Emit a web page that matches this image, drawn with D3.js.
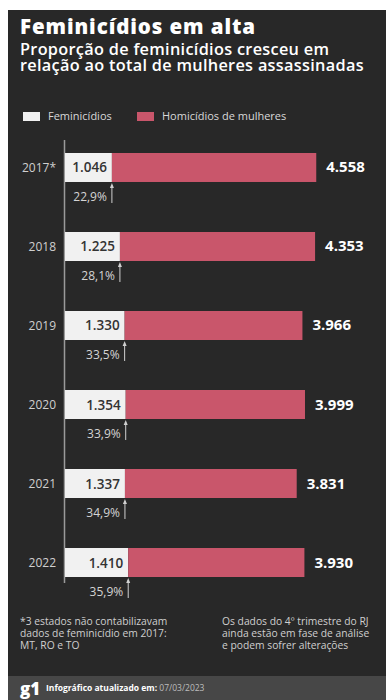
<!DOCTYPE html>
<html>
<head>
<meta charset="utf-8">
<script src="https://cdn.jsdelivr.net/npm/d3@7"></script>
<style>
  body { margin: 0; background: #fff; }
  svg { display: block; }
</style>
</head>
<body>
<svg id="chart" width="386" height="700"></svg>
<script>
var anos = ["2017*", "2018", "2019", "2020", "2021", "2022"];
var feminicidios = [1046, 1225, 1330, 1354, 1337, 1410];
var homicidios = [4558, 4353, 3966, 3999, 3831, 3930];
var percentuais = ["22,9%", "28,1%", "33,5%", "33,9%", "34,9%", "35,9%"];
var legenda = ["Feminicídios", "Homicídios de mulheres"];

var branco = "#f1f1f1", rosa = "#c9566b", fundo = "#282828";
var fonte = "'Open Sans', sans-serif";

var svg = d3.select("#chart");

// dark panel
svg.append("rect").attr("x", 8).attr("y", 10).attr("width", 378).attr("height", 690).attr("fill", fundo);
svg.append("rect").attr("x", 8).attr("y", 676).attr("width", 378).attr("height", 24).attr("fill", "#474747");

// titles
svg.append("text").attr("x", 20).attr("y", 34).text("Feminicídios em alta")
    .attr("fill", "#fff").attr("font-family", fonte).attr("font-weight", 800).attr("font-size", 20.5)
    .attr("letter-spacing", 0.9);
svg.append("text").attr("x", 20).attr("y", 55).text("Proporção de feminicídios cresceu em")
    .attr("fill", "#fff").attr("font-family", fonte).attr("font-weight", 600).attr("font-size", 16.3)
    .attr("letter-spacing", 0.3);
svg.append("text").attr("x", 20).attr("y", 71).text("relação ao total de mulheres assassinadas")
    .attr("fill", "#fff").attr("font-family", fonte).attr("font-weight", 600).attr("font-size", 16.3)
    .attr("letter-spacing", 0.3);

// legend
var legX = [23, 137];
legenda.forEach(function(nome, i) {
    svg.append("rect").attr("x", legX[i]).attr("y", 112).attr("width", 17).attr("height", 9)
        .attr("fill", i == 0 ? branco : rosa);
    svg.append("text").attr("x", legX[i] + 25).attr("y", 120).text(nome)
        .attr("fill", "#d8d8d8").attr("font-family", fonte).attr("font-size", 11);
});

// scales
var x = d3.scaleLinear().domain([0, 6000]).range([65, 334]);
var y = d3.scaleBand().domain(anos).range([153, 577]).paddingInner(0.633).paddingOuter(0);

var dados = anos.map(function(a, i) {
    return {ano: a, fem: feminicidios[i], hom: homicidios[i], pct: percentuais[i]};
});

// axis line
svg.append("line").attr("x1", 64.5).attr("x2", 64.5).attr("y1", 140).attr("y2", 583)
    .attr("stroke", "#9a9a9a").attr("stroke-width", 1.5);

var g = svg.selectAll(".linha").data(dados).enter().append("g").attr("class", "linha");

g.append("rect")
    .attr("x", x(0)).attr("y", function(d) { return y(d.ano); })
    .attr("width", function(d) { return x(d.fem) - x(0); })
    .attr("height", y.bandwidth()).attr("fill", branco);

g.append("rect")
    .attr("x", function(d) { return x(d.fem); }).attr("y", function(d) { return y(d.ano); })
    .attr("width", function(d) { return x(d.fem + d.hom) - x(d.fem); })
    .attr("height", y.bandwidth()).attr("fill", rosa);

// years
g.append("text")
    .attr("x", 56).attr("y", function(d) { return y(d.ano) + y.bandwidth() / 2 + 4.5; })
    .attr("text-anchor", "end").text(function(d) { return d.ano; })
    .attr("fill", "#cfcfcf").attr("font-family", fonte).attr("font-size", 12);

// feminicide values
g.append("text")
    .attr("x", function(d) { return x(d.fem) - 5; })
    .attr("y", function(d) { return y(d.ano) + y.bandwidth() / 2 + 5; })
    .attr("text-anchor", "end").text(function(d) { return d3.format(",")(d.fem).replace(",", "."); })
    .attr("fill", "#333").attr("font-family", fonte).attr("font-weight", 600).attr("font-size", 13.5);

// total values
g.append("text")
    .attr("x", function(d) { return x(d.fem + d.hom) + 10; })
    .attr("y", function(d) { return y(d.ano) + y.bandwidth() / 2 + 5; })
    .text(function(d) { return d3.format(",")(d.hom).replace(",", "."); })
    .attr("fill", "#fff").attr("font-family", fonte).attr("font-weight", 700).attr("font-size", 15);

// arrows
g.append("line")
    .attr("x1", function(d) { return x(d.fem); }).attr("x2", function(d) { return x(d.fem); })
    .attr("y1", function(d) { return y(d.ano) + y.bandwidth() + 3; })
    .attr("y2", function(d) { return y(d.ano) + y.bandwidth() + 21; })
    .attr("stroke", "#d0d0d0").attr("stroke-width", 1);
g.append("path")
    .attr("d", function(d) {
        var ax = x(d.fem), ay = y(d.ano) + y.bandwidth() + 1;
        return "M" + ax + "," + ay + "L" + (ax - 2) + "," + (ay + 5) + "L" + (ax + 2) + "," + (ay + 5) + "Z";
    })
    .attr("fill", "#d0d0d0");

// percentages
g.append("text")
    .attr("x", function(d) { return x(d.fem) - 5; })
    .attr("y", function(d) { return y(d.ano) + y.bandwidth() + 19; })
    .attr("text-anchor", "end").text(function(d) { return d.pct; })
    .attr("fill", "#d4d4d4").attr("font-family", fonte).attr("font-size", 12);

// footnotes
var notaEsq = ["*3 estados não contabilizavam", "dados de feminicídio em 2017:", "MT, RO e TO"];
var notaDir = ["Os dados do 4º trimestre do RJ", "ainda estão em fase de análise", "e podem sofrer alterações"];
notaEsq.forEach(function(t, i) {
    svg.append("text").attr("x", 20).attr("y", 625 + i * 12).text(t)
        .attr("fill", "#cfcfcf").attr("font-family", fonte).attr("font-size", 10.3);
});
notaDir.forEach(function(t, i) {
    svg.append("text").attr("x", 222).attr("y", 625 + i * 12).text(t)
        .attr("fill", "#cfcfcf").attr("font-family", fonte).attr("font-size", 10.3);
});

// footer
svg.append("text").attr("x", 20).attr("y", 695).text("g1")
    .attr("fill", "#fff").attr("font-family", fonte).attr("font-weight", 800).attr("font-size", 17);
var rod = svg.append("text").attr("x", 46).attr("y", 691)
    .attr("font-family", fonte).attr("font-size", 8.5);
rod.append("tspan").text("Infográfico atualizado em: ").attr("fill", "#fff").attr("font-weight", 700);
rod.append("tspan").text("07/03/2023").attr("fill", "#bdbdbd");
</script>
</body>
</html>
